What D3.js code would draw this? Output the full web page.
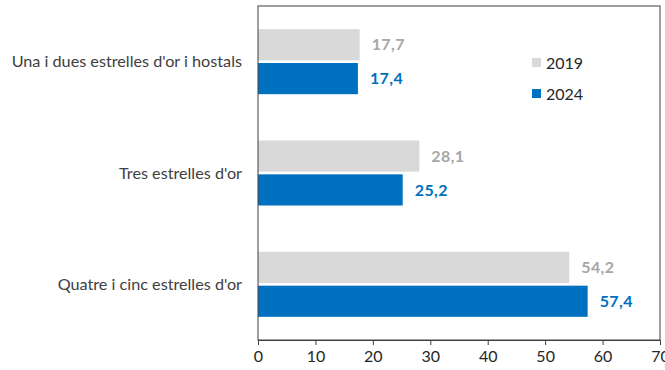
<!DOCTYPE html>
<html>
<head>
<meta charset="utf-8">
<script src="https://cdn.jsdelivr.net/npm/d3@7"></script>
<style>
  body { margin: 0; background: #fff; }
  text { font-family: Lato, "Open Sans", sans-serif; }
</style>
</head>
<body>
<svg id="chart" width="665" height="370"></svg>
<script>
// categories, series and tick labels
var categories = ["Una i dues estrelles d'or i hostals", "Tres estrelles d'or", "Quatre i cinc estrelles d'or"];
var years = ["2019", "2024"];
var values2019 = [17.7, 28.1, 54.2];
var values2024 = [17.4, 25.2, 57.4];
var ticks = [0, 10, 20, 30, 40, 50, 60, 70];

var colors = { "2019": "#d9d9d9", "2024": "#0070c0" };
var labelColors = { "2019": "#a6a6a6", "2024": "#0070c0" };

var svg = d3.select('#chart');
var plotLeft = 258, plotRight = 660, plotTop = 6, plotBottom = 340;

var x = d3.scaleLinear().domain([0, 70]).range([plotLeft, plotRight]);
var y0 = d3.scaleBand().domain(categories).range([plotTop, plotBottom])
    .paddingInner(0.416).paddingOuter(0.208);
var y1 = d3.scaleBand().domain(years).range([0, y0.bandwidth()]).paddingInner(0.08);

var rows = categories.map(function(c, i) {
    return { cat: c, vals: [{ year: "2019", v: values2019[i] }, { year: "2024", v: values2024[i] }] };
});

var fmt = function(v) { return d3.format('.1f')(v).replace('.', ','); };

// bars
var groups = svg.selectAll('g.group')
    .data(rows)
    .enter().append('g')
    .attr('class', 'group')
    .attr('transform', function(d) { return 'translate(0,' + y0(d.cat) + ')'; });

groups.selectAll('rect')
    .data(function(d) { return d.vals; })
    .enter().append('rect')
    .attr('x', x(0))
    .attr('y', function(d) { return y1(d.year); })
    .attr('width', function(d) { return x(d.v) - x(0); })
    .attr('height', y1.bandwidth())
    .attr('fill', function(d) { return colors[d.year]; });

groups.selectAll('text.value')
    .data(function(d) { return d.vals; })
    .enter().append('text')
    .attr('class', 'value')
    .attr('x', function(d) { return x(d.v) + 12; })
    .attr('y', function(d) { return y1(d.year) + y1.bandwidth() / 2; })
    .attr('dy', '0.35em')
    .attr('font-size', 16)
    .attr('font-weight', 'bold')
    .attr('letter-spacing', 0.4)
    .attr('fill', function(d) { return labelColors[d.year]; })
    .text(function(d) { return fmt(d.v); });

// category labels
svg.selectAll('text.cat')
    .data(categories)
    .enter().append('text')
    .attr('class', 'cat')
    .attr('x', 242)
    .attr('y', function(d) { return y0(d) + y0.bandwidth() / 2; })
    .attr('dy', '0.35em')
    .attr('text-anchor', 'end')
    .attr('font-size', 16.2)
    .attr('fill', '#404040')
    .text(function(d) { return d; });

// frame
svg.append('rect')
    .attr('x', plotLeft)
    .attr('y', plotTop)
    .attr('width', plotRight - plotLeft)
    .attr('height', plotBottom - plotTop)
    .attr('fill', 'none')
    .attr('stroke', '#404040')
    .attr('stroke-width', 1);

// x axis
var xAxis = svg.append('g')
    .attr('transform', 'translate(0,' + plotBottom + ')')
    .call(d3.axisBottom(x).tickValues(ticks).tickSize(5).tickFormat(d3.format('d')));
xAxis.select('.domain').attr('stroke', '#404040');
xAxis.selectAll('.tick line').attr('stroke', '#404040');
xAxis.selectAll('.tick text')
    .attr('font-family', 'Lato, "Open Sans", sans-serif')
    .attr('font-size', 16)
    .attr('fill', '#262626')
    .attr('y', 11);

// legend
var legend = svg.selectAll('g.legend')
    .data(years)
    .enter().append('g')
    .attr('class', 'legend')
    .attr('transform', function(d, i) { return 'translate(532,' + (63 + i * 31) + ')'; });

legend.append('rect')
    .attr('x', 0)
    .attr('y', -5)
    .attr('width', 9)
    .attr('height', 9)
    .attr('fill', function(d) { return colors[d]; });

legend.append('text')
    .attr('x', 14)
    .attr('y', 0)
    .attr('dy', '0.35em')
    .attr('font-size', 16)
    .attr('fill', '#262626')
    .text(function(d) { return d; });
</script>
</body>
</html>
